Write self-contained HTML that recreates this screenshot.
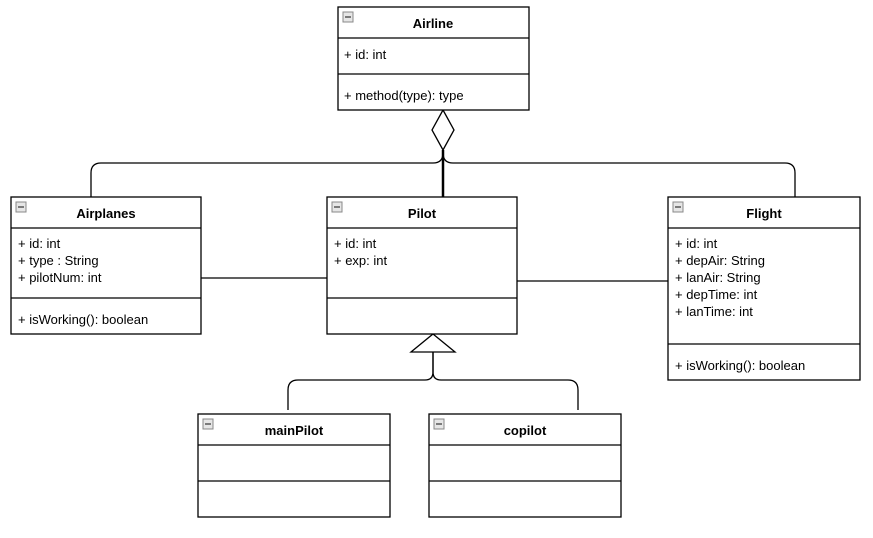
<!DOCTYPE html>
<html><head><style>body{margin:0;background:#fff}svg{display:block}text{font-family:"Liberation Sans",Arial,sans-serif;font-size:13px;fill:#000}.t{font-weight:bold;text-anchor:middle}</style></head><body>
<svg width="873" height="538" viewBox="0 0 873 538">
<defs><g id="ic"><rect x="0" y="0" width="10" height="10" fill="#e6e6e6" stroke="#888" stroke-width="1"/><line x1="2" y1="5" x2="8" y2="5" stroke="#333" stroke-width="1.2"/></g></defs>
<g fill="none" stroke="#000" stroke-width="1.3">
<path d="M91 197 V173 Q91 163 101 163 H433 Q443 163 443 153"/>
<path d="M795 197 V173 Q795 163 785 163 H453 Q443 163 443 153"/>
<path d="M443 110 L454 130 L443 150 L432 130 Z" fill="#fff"/>
<line x1="443" y1="150" x2="443" y2="197" stroke-width="2.5"/>
<line x1="197" y1="278" x2="327" y2="278"/>
<line x1="517" y1="281" x2="668" y2="281"/>
<path d="M433 334 L455 352 L411 352 Z" fill="#fff"/>
<path d="M433 352 V372 Q433 380 425 380 H298 Q288 380 288 390 V410"/>
<path d="M433 352 V372 Q433 380 441 380 H568 Q578 380 578 390 V410"/>
</g>
<g fill="#fff" stroke="#000" stroke-width="1.3">
<rect x="338" y="7" width="191" height="103"/><line x1="338" y1="38" x2="529" y2="38"/><line x1="338" y1="74" x2="529" y2="74"/>
<rect x="11" y="197" width="190" height="137"/><line x1="11" y1="228" x2="201" y2="228"/><line x1="11" y1="298" x2="201" y2="298"/>
<rect x="327" y="197" width="190" height="137"/><line x1="327" y1="228" x2="517" y2="228"/><line x1="327" y1="298" x2="517" y2="298"/>
<rect x="668" y="197" width="192" height="183"/><line x1="668" y1="228" x2="860" y2="228"/><line x1="668" y1="344" x2="860" y2="344"/>
<rect x="198" y="414" width="192" height="103"/><line x1="198" y1="445" x2="390" y2="445"/><line x1="198" y1="481" x2="390" y2="481"/>
<rect x="429" y="414" width="192" height="103"/><line x1="429" y1="445" x2="621" y2="445"/><line x1="429" y1="481" x2="621" y2="481"/>
</g>
<use href="#ic" x="343" y="12"/><use href="#ic" x="16" y="202"/><use href="#ic" x="332" y="202"/><use href="#ic" x="673" y="202"/><use href="#ic" x="203" y="419"/><use href="#ic" x="434" y="419"/>
<text class="t" x="433" y="28">Airline</text>
<text x="344" y="59">+ id: int</text>
<text x="344" y="100">+ method(type): type</text>
<text class="t" x="106" y="218">Airplanes</text>
<text x="18" y="248">+ id: int</text><text x="18" y="265">+ type : String</text><text x="18" y="282">+ pilotNum: int</text>
<text x="18" y="324">+ isWorking(): boolean</text>
<text class="t" x="422" y="218">Pilot</text>
<text x="334" y="248">+ id: int</text><text x="334" y="265">+ exp: int</text>
<text class="t" x="764" y="218">Flight</text>
<text x="675" y="248">+ id: int</text><text x="675" y="265">+ depAir: String</text><text x="675" y="282">+ lanAir: String</text><text x="675" y="299">+ depTime: int</text><text x="675" y="316">+ lanTime: int</text>
<text x="675" y="370">+ isWorking(): boolean</text>
<text class="t" x="294" y="435">mainPilot</text>
<text class="t" x="525" y="435">copilot</text>
</svg>
</body></html>
